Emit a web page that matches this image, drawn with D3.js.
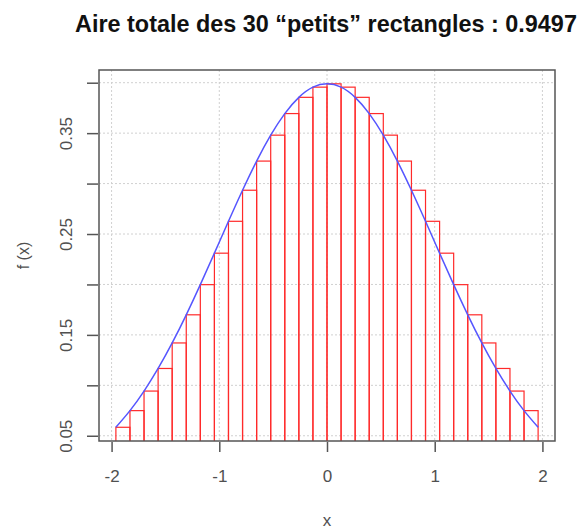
<!DOCTYPE html>
<html>
<head>
<meta charset="utf-8">
<script src="https://cdn.jsdelivr.net/npm/d3@7"></script>
<style>
  html, body { margin: 0; padding: 0; background: #fff; }
  svg { display: block; }
</style>
</head>
<body>
<svg id="chart" width="577" height="531"></svg>
<script>
// ---- Data ----
const titleText = "Aire totale des 30 \u201cpetits\u201d rectangles : 0.9497";
const rectLeft = [-1.96, -1.8293, -1.6987, -1.568, -1.4373, -1.3067, -1.176, -1.0453, -0.9147, -0.784,
                  -0.6533, -0.5227, -0.392, -0.2613, -0.1307, 0, 0.1307, 0.2613, 0.392, 0.5227,
                  0.6533, 0.784, 0.9147, 1.0453, 1.176, 1.3067, 1.4373, 1.568, 1.6987, 1.8293];
const rectWidth = 0.13067;
const rectHeight = [0.0584, 0.0749, 0.0943, 0.1167, 0.1420, 0.1699, 0.1998, 0.2310, 0.2626, 0.2934,
                    0.3223, 0.3480, 0.3694, 0.3855, 0.3956, 0.3989, 0.3956, 0.3855, 0.3694, 0.3480,
                    0.3223, 0.2934, 0.2626, 0.2310, 0.1998, 0.1699, 0.1420, 0.1167, 0.0943, 0.0749];
const curveX = [-1.96, -1.8293, -1.6987, -1.568, -1.4373, -1.3067, -1.176, -1.0453, -0.9147, -0.784,
                -0.6533, -0.5227, -0.392, -0.2613, -0.1307, 0, 0.1307, 0.2613, 0.392, 0.5227,
                0.6533, 0.784, 0.9147, 1.0453, 1.176, 1.3067, 1.4373, 1.568, 1.6987, 1.8293, 1.96];
const curveY = [0.0584, 0.0749, 0.0943, 0.1167, 0.1420, 0.1699, 0.1998, 0.2310, 0.2626, 0.2934,
                0.3223, 0.3480, 0.3694, 0.3855, 0.3956, 0.3989, 0.3956, 0.3855, 0.3694, 0.3480,
                0.3223, 0.2934, 0.2626, 0.2310, 0.1998, 0.1699, 0.1420, 0.1167, 0.0943, 0.0749, 0.0584];
const xTicks = [-2, -1, 0, 1, 2];
const xTickLabels = ["-2", "-1", "0", "1", "2"];
const yTicks = [0.05, 0.10, 0.15, 0.20, 0.25, 0.30, 0.35, 0.40];
const yTickLabels = ["0.05", "", "0.15", "", "0.25", "", "0.35", ""];
const xDomain = [-2.1168, 2.1168];
const yDomain = [0.0448, 0.4126];

// ---- Layout ----
const plot = { left: 99, right: 555, top: 70, bottom: 441 };
const svg = d3.select("#chart");
const x = d3.scaleLinear().domain(xDomain).range([plot.left, plot.right]);
const y = d3.scaleLinear().domain(yDomain).range([plot.bottom, plot.top]);

const axisColor = "#555";
const textColor = "#505050";
const font = "'Liberation Sans', Arial, Helvetica, sans-serif";

svg.append("defs").append("clipPath").attr("id", "clip")
  .append("rect")
  .attr("x", plot.left).attr("y", plot.top)
  .attr("width", plot.right - plot.left).attr("height", plot.bottom - plot.top);

// Grid
const grid = svg.append("g").attr("stroke", "#d0d0d0").attr("stroke-width", 1)
  .attr("stroke-dasharray", "2,2");
grid.selectAll("line.v").data(xTicks).join("line").attr("class", "v")
  .attr("x1", d => x(d)).attr("x2", d => x(d))
  .attr("y1", plot.top).attr("y2", plot.bottom);
grid.selectAll("line.h").data(yTicks).join("line").attr("class", "h")
  .attr("x1", plot.left).attr("x2", plot.right)
  .attr("y1", d => y(d)).attr("y2", d => y(d));

// Rectangles
const rects = svg.append("g").attr("clip-path", "url(#clip)");
rects.selectAll("rect").data(rectLeft).join("rect")
  .attr("x", d => x(d))
  .attr("width", d => x(d + rectWidth) - x(d))
  .attr("y", (d, i) => y(rectHeight[i]))
  .attr("height", (d, i) => y(0) - y(rectHeight[i]))
  .attr("fill", "none")
  .attr("stroke", "#ff2a2a")
  .attr("stroke-width", 1.2);

// Curve
const line = d3.line().x(d => x(d[0])).y(d => y(d[1])).curve(d3.curveNatural);
svg.append("path")
  .datum(curveX.map((v, i) => [v, curveY[i]]))
  .attr("d", line)
  .attr("fill", "none")
  .attr("stroke", "#5555ff")
  .attr("stroke-width", 1.5);

// Box
svg.append("rect")
  .attr("x", plot.left).attr("y", plot.top)
  .attr("width", plot.right - plot.left).attr("height", plot.bottom - plot.top)
  .attr("fill", "none").attr("stroke", axisColor).attr("stroke-width", 1.5);

// X axis
const xAxis = d3.axisBottom(x).tickValues(xTicks).tickSize(10).tickPadding(18)
  .tickFormat((d, i) => xTickLabels[i]);
const gx = svg.append("g").attr("transform", `translate(0,${plot.bottom + 1})`).call(xAxis);
gx.select(".domain").remove();
gx.selectAll("line").attr("stroke", axisColor).attr("stroke-width", 1.5);
gx.selectAll("text").attr("fill", textColor).style("font-family", font).style("font-size", "17px");

// Y axis
const yAxis = d3.axisLeft(y).tickValues(yTicks).tickSize(11).tickPadding(0)
  .tickFormat((d, i) => yTickLabels[i]);
const gy = svg.append("g").attr("transform", `translate(${plot.left - 1},0)`).call(yAxis);
gy.select(".domain").remove();
gy.selectAll("line").attr("stroke", axisColor).attr("stroke-width", 1.5);
gy.selectAll("text")
  .attr("fill", textColor).style("font-family", font).style("font-size", "17px")
  .attr("x", null).attr("dy", null)
  .attr("text-anchor", "middle")
  .attr("transform", d => `translate(${66.5 - plot.left + 1},${0}) rotate(-90)`)
  .attr("dy", "0.35em");

// Axis titles
svg.append("text").attr("x", (plot.left + plot.right) / 2).attr("y", 522)
  .attr("text-anchor", "middle").attr("dominant-baseline", "middle")
  .attr("fill", textColor).style("font-family", font).style("font-size", "17px").text("x");
svg.append("text")
  .attr("transform", `translate(25,${(plot.top + plot.bottom) / 2}) rotate(-90)`)
  .attr("text-anchor", "middle").attr("dominant-baseline", "middle")
  .attr("fill", textColor).style("font-family", font).style("font-size", "16px").text("f (x)");

// Title
svg.append("text").attr("x", 326).attr("y", 31.5)
  .attr("text-anchor", "middle")
  .attr("fill", "#111").style("font-family", font).style("font-size", "23.4px").style("font-weight", "bold")
  .text(titleText);
</script>
</body>
</html>
